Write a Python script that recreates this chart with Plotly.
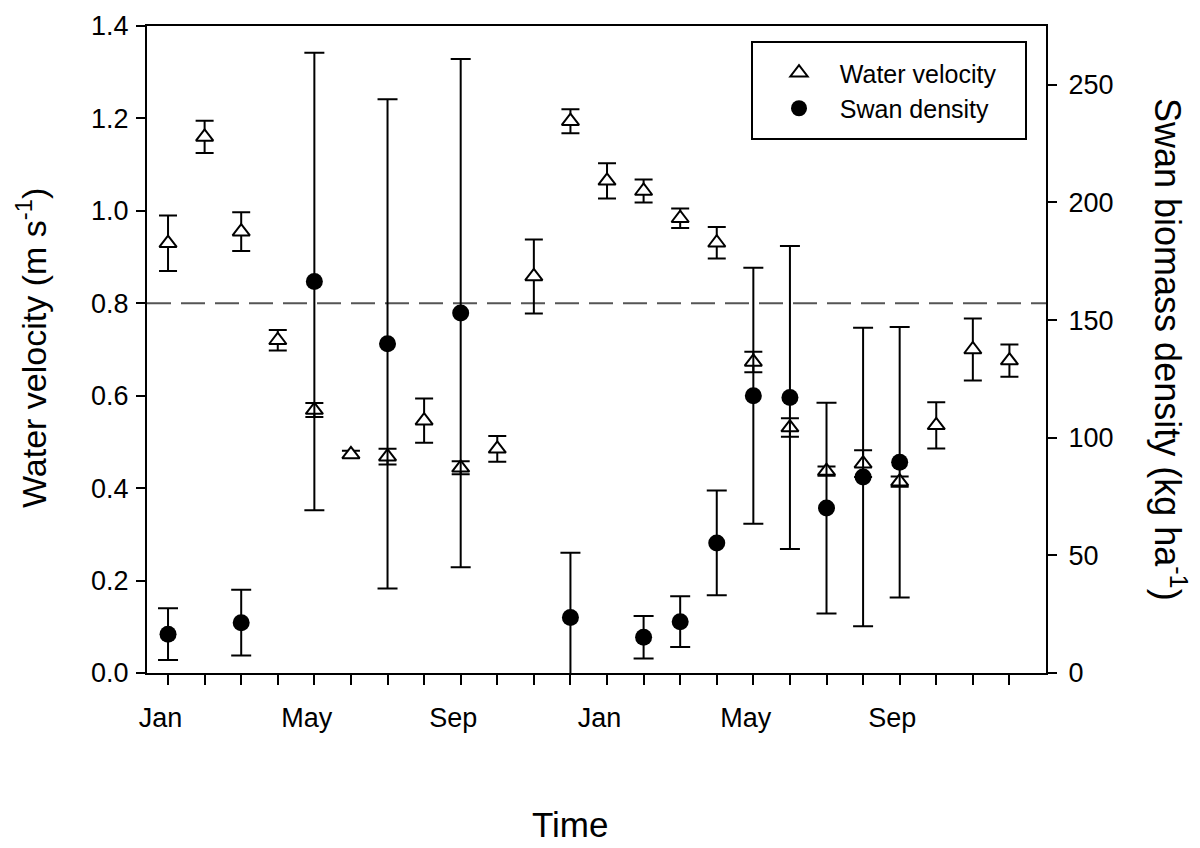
import plotly.graph_objects as go

# Month index (0 = Jan of first year ... 23 = Dec of second year)
vel_month = list(range(24))
vel_mean = [0.930, 1.160, 0.955, 0.720, 0.569, 0.473, 0.468, 0.546, 0.444, 0.485, 0.858, 1.194,
            1.065, 1.043, 0.984, 0.931, 0.673, 0.531, 0.437, 0.453, 0.414, 0.536, 0.700, 0.676]
vel_err = [0.060, 0.035, 0.042, 0.022, 0.015, 0.008, 0.017, 0.048, 0.014, 0.028, 0.080, 0.026,
           0.038, 0.025, 0.021, 0.034, 0.022, 0.020, 0.010, 0.029, 0.011, 0.050, 0.067, 0.035]

swan_month = [0, 2, 4, 6, 8, 11, 13, 14, 15, 16, 17, 18, 19, 20]
swan_mean = [16.5, 21.4, 166.4, 139.9, 153.0, 23.6, 15.2, 21.8, 55.3, 117.8, 117.1, 70.1, 83.3, 89.6]
swan_err = [11.0, 14.0, 97.2, 104.0, 108.0, 27.5, 9.0, 10.8, 22.3, 54.4, 64.4, 44.8, 63.4, 57.5]

tick_vals = list(range(24))
tick_names = ["Jan", "", "", "", "May", "", "", "", "Sep", "", "", "",
              "Jan", "", "", "", "May", "", "", "", "Sep", "", "", ""]
threshold = 0.8

FONT = "Arial, 'Liberation Sans', sans-serif"
pad = "\u00a0\u00a0"
tick_text = [t + pad if t else "" for t in tick_names]
lpad = "\u00a0\u00a0\u00a0"

# page has an 8px body margin: work in figure pixels = screen pixels - 8
W, H = 1192, 840
L, R, T, B = 139, 1038, 18, 665  # plot area in figure pixels
pw, ph = R - L, B - T


def px(xs):
    return (xs - 8 - L) / pw


def py(ys):
    return (B - (ys - 8)) / ph


fig = go.Figure()

fig.add_trace(go.Scatter(
    x=vel_month, y=vel_mean, name=lpad + "Water velocity", mode="markers",
    marker=dict(symbol="triangle-up", size=15, color="white",
                line=dict(color="black", width=2)),
    error_y=dict(type="data", array=vel_err, visible=True, color="black",
                 thickness=2, width=9),
    yaxis="y",
))

fig.add_trace(go.Scatter(
    x=swan_month, y=swan_mean, name=lpad + "Swan density", mode="markers",
    marker=dict(symbol="circle", size=17, color="black",
                line=dict(color="black", width=0)),
    error_y=dict(type="data", array=swan_err, visible=True, color="black",
                 thickness=2, width=10),
    yaxis="y2",
))

fig.add_shape(type="line", xref="paper", x0=0, x1=1, yref="y", y0=threshold, y1=threshold,
              line=dict(color="#555555", width=2, dash="24px,10px"), layer="below")

# legend border box
fig.add_shape(type="rect", xref="paper", yref="paper",
              x0=px(752), x1=px(1026), y0=py(139), y1=py(42),
              line=dict(color="black", width=2), fillcolor="rgba(0,0,0,0)")

fig.update_layout(
    width=W, height=H,
    margin=dict(l=L, r=W - R, t=T, b=H - B, autoexpand=False),
    paper_bgcolor="white", plot_bgcolor="white",
    font=dict(family=FONT, color="black", size=27),
    showlegend=True,
    legend=dict(x=px(779), xanchor="left", y=py(50), yanchor="top",
                bgcolor="rgba(0,0,0,0)", borderwidth=0,
                font=dict(family=FONT, size=25, color="black"),
                itemsizing="trace", tracegroupgap=0),
    xaxis=dict(range=[-0.575, 24.0], tickmode="array", tickvals=tick_vals, ticktext=tick_text,
               ticks="outside", ticklen=10, tickwidth=2, tickcolor="black",
               showline=True, linecolor="black", linewidth=2, mirror=True,
               showgrid=False, zeroline=False, ticklabelstandoff=10,
               tickfont=dict(family=FONT, size=27, color="black")),
    yaxis=dict(range=[0, 1.4], tickvals=[0, 0.2, 0.4, 0.6, 0.8, 1.0, 1.2, 1.4], tickformat=".1f",
               ticks="outside", ticklen=9, tickwidth=2, tickcolor="black",
               showline=True, linecolor="black", linewidth=2,
               showgrid=False, zeroline=False, ticklabelstandoff=2,
               tickfont=dict(family=FONT, size=27, color="black")),
    yaxis2=dict(range=[0, 275], tickvals=[0, 50, 100, 150, 200, 250], overlaying="y", side="right",
                ticks="outside", ticklen=9, tickwidth=2, tickcolor="black",
                showline=True, linecolor="black", linewidth=2,
                showgrid=False, zeroline=False, ticklabelstandoff=6,
                tickfont=dict(family=FONT, size=27, color="black")),
    annotations=[
        dict(text="Water velocity (m s<sup>-1</sup>)", xref="paper", yref="paper",
             x=px(31), y=py(348), textangle=-90, showarrow=False,
             font=dict(family=FONT, size=34, color="black"), xanchor="center", yanchor="middle"),
        dict(text="Swan biomass density (kg ha<sup>-1</sup>)", xref="paper", yref="paper",
             x=px(1170), y=py(349), textangle=90, showarrow=False,
             font=dict(family=FONT, size=36, color="black"), xanchor="center", yanchor="middle"),
        dict(text="Time", xref="paper", yref="paper",
             x=px(570), y=py(825), showarrow=False,
             font=dict(family=FONT, size=35, color="black"), xanchor="center", yanchor="middle"),
    ],
)

fig.write_html("out.html")
